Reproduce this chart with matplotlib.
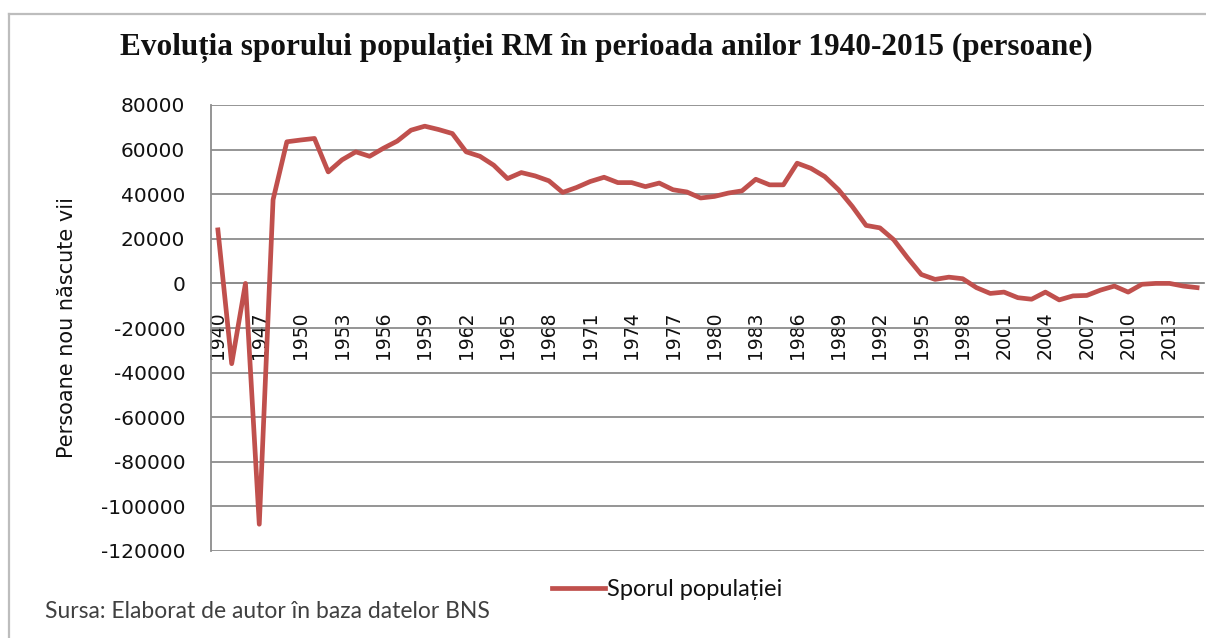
import matplotlib
matplotlib.use("Agg")
import matplotlib.pyplot as plt
from matplotlib.lines import Line2D

years = [1940, 1945, 1946] + list(range(1947, 2016))
values = [24000, -36000, 0, -108000, 37500, 63500, 64300, 65000, 50000, 55400,
          59000, 57000, 60600, 63800, 68700, 70500, 69000, 67200, 59000, 57000,
          53000, 47000, 49700, 48200, 46000, 40800, 43000, 45700, 47600, 45200,
          45200, 43400, 45000, 42000, 41000, 38300, 39000, 40500, 41500, 46700,
          44200, 44200, 53900, 51600, 47900, 42000, 34500, 26000, 24900, 19600,
          11500, 4000, 1800, 2800, 2100, -1900, -4500, -3900, -6400, -7100,
          -3900, -7400, -5600, -5400, -3000, -1200, -3900, -400, 0, 0,
          -1200, -1900]
yticks = list(range(-120000, 80001, 20000))
title = "Evoluția sporului populației RM în perioada anilor 1940-2015 (persoane)"
ylabel = "Persoane nou născute vii"
series_name = "Sporul populației"
source = "Sursa: Elaborat de autor în baza datelor BNS"

W, H = 1206, 638
fig = plt.figure(figsize=(W / 100, H / 100), dpi=100)
fig.patch.set_facecolor("white")

x0, x1, ytop, ybot = 211, 1204, 105, 551
ax = fig.add_axes([x0 / W, 1 - ybot / H, (x1 - x0) / W, (ybot - ytop) / H])

idx = list(range(len(years)))
line_color = "#C0504D"
ax.plot(idx, values, color=line_color, lw=3.4, solid_joinstyle="round", zorder=3)

ax.set_xlim(-0.5, len(years) - 0.5)
ax.set_ylim(-120000, 80000)
ax.set_yticks(yticks)
ax.set_yticklabels([str(v) for v in yticks], fontsize=14.5, family="DejaVu Sans", color="#111111")
ax.tick_params(axis="y", length=0, pad=18.5)

grid_color = "#8C8C8C"
ax.grid(axis="y", color=grid_color, lw=1.3)
ax.set_axisbelow(True)
for s in ["top", "right"]:
    ax.spines[s].set_visible(False)
ax.spines["left"].set_color(grid_color)
ax.spines["left"].set_linewidth(1.3)
ax.spines["bottom"].set_position(("data", 0))
ax.spines["bottom"].set_color(grid_color)
ax.spines["bottom"].set_linewidth(1.3)

tick_idx = idx[::3]
ax.set_xticks(tick_idx)
ax.set_xticklabels([str(years[i]) for i in tick_idx], rotation=90, fontsize=13.5,
                   family="DejaVu Sans", color="#111111", va="top", ha="center")
ax.tick_params(axis="x", length=0, pad=20)

fig.text(67 / W, 1 - 328 / H, ylabel, rotation=90, ha="center", va="center",
         fontsize=15, family="DejaVu Sans", color="#111111")

fig.text(606 / W, 1 - 48 / H, title, ha="center", va="center", fontsize=22.5,
         family="Liberation Serif", fontweight="bold", color="#111111")

# legend
fig.add_artist(Line2D([552 / W, 605 / W], [1 - 588 / H, 1 - 588 / H], color=line_color,
                      lw=3.4, transform=fig.transFigure))
fig.text(607 / W, 1 - 589 / H, series_name, ha="left", va="center", fontsize=17,
         family="Lato", color="#111111")

fig.text(45 / W, 1 - 612 / H, source, ha="left", va="center", fontsize=16.5,
         family="Lato", color="#404040")

# outer frame
frame_c = "#BDBDBD"
fig.add_artist(Line2D([9 / W, 9 / W], [0, 1 - 14 / H], color=frame_c, lw=1.6,
                      transform=fig.transFigure))
fig.add_artist(Line2D([9 / W, 1], [1 - 14 / H, 1 - 14 / H], color=frame_c, lw=1.6,
                      transform=fig.transFigure))

fig.savefig("out.png", dpi=100, facecolor="white")
